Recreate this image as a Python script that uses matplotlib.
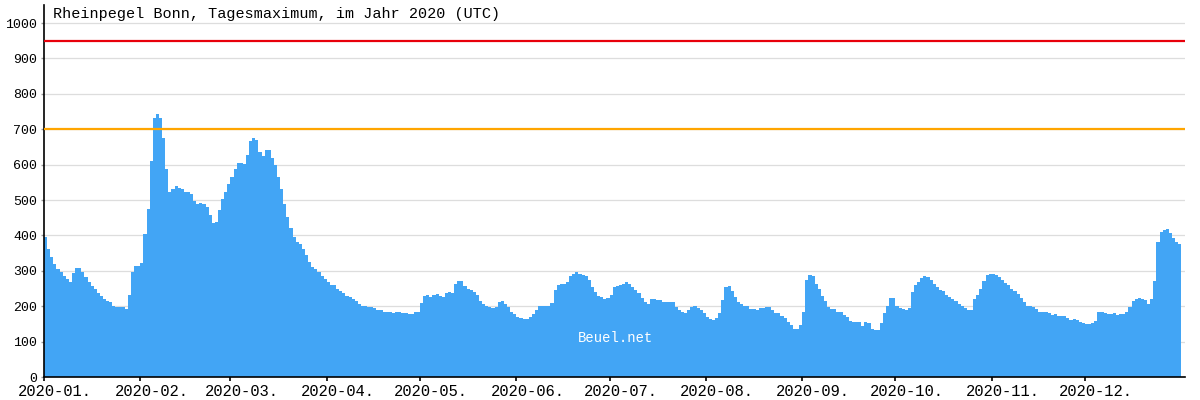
import numpy as np
import pandas as pd
import matplotlib
matplotlib.use("Agg")
import matplotlib.pyplot as plt
from matplotlib.transforms import offset_copy

# Daily maximum water level (cm), Rhine gauge Bonn, 2020
jan = [395, 363, 338, 318, 304, 296, 284, 276, 267, 293, 307, 307, 298, 282, 267, 256,
       248, 236, 228, 219, 214, 211, 202, 197, 197, 197, 191, 231, 296, 313, 315]
feb = [321, 403, 474, 609, 733, 742, 733, 674, 587, 522, 530, 539, 533, 530, 524, 522,
       516, 496, 488, 491, 488, 479, 457, 434, 437, 471, 502, 524, 544]
mar = [564, 589, 606, 606, 601, 626, 666, 674, 671, 635, 623, 642, 640, 618, 598, 564,
       530, 488, 451, 420, 395, 380, 375, 363, 344, 324, 310, 304, 296, 284, 276]
apr = [267, 259, 259, 250, 242, 236, 228, 225, 219, 214, 205, 202, 200, 197, 197, 194,
       188, 188, 185, 185, 185, 180, 183, 183, 180, 180, 177, 177, 183, 185]
may = [208, 228, 231, 225, 231, 234, 228, 225, 236, 239, 236, 262, 270, 270, 256, 250,
       247, 239, 231, 214, 205, 200, 197, 194, 197, 211, 214, 205, 197, 185, 177]
jun = [169, 166, 163, 163, 169, 177, 188, 200, 200, 202, 202, 208, 247, 259, 262, 262,
       267, 284, 290, 296, 290, 287, 284, 273, 253, 239, 228, 225, 219, 222]
jul = [231, 253, 256, 259, 262, 267, 262, 253, 245, 236, 222, 211, 205, 219, 219, 217,
       217, 211, 211, 211, 211, 197, 188, 183, 180, 188, 197, 200, 194, 188, 180]
aug = [169, 163, 160, 166, 180, 217, 253, 256, 242, 225, 211, 205, 202, 202, 191, 191,
       188, 194, 194, 197, 197, 188, 180, 180, 171, 166, 154, 146, 137, 137, 146]
sep = [183, 273, 287, 284, 262, 248, 228, 214, 197, 191, 191, 185, 185, 174, 169, 157,
       155, 155, 155, 143, 155, 152, 135, 132, 132, 152, 180, 202, 222, 222]
oct_ = [202, 194, 191, 188, 194, 239, 259, 267, 279, 284, 282, 273, 262, 253, 247, 242,
        231, 225, 219, 214, 205, 202, 194, 188, 188, 219, 231, 248, 270, 287, 290]
nov = [290, 287, 282, 273, 265, 259, 248, 242, 234, 222, 211, 202, 200, 197, 191, 185,
       185, 183, 180, 174, 177, 171, 171, 171, 166, 160, 163, 160, 154, 152]
dec = [149, 149, 152, 157, 183, 183, 180, 177, 177, 180, 174, 177, 177, 183, 197, 214,
       219, 222, 219, 217, 205, 219, 270, 380, 411, 414, 417, 406, 392, 380, 375]

levels = jan + feb + mar + apr + may + jun + jul + aug + sep + oct_ + nov + dec
days = pd.date_range("2020-01-01", periods=len(levels), freq="D")

month_starts = pd.date_range("2020-01-01", "2020-12-01", freq="MS")
month_labels = ["2020-01.", "2020-02.", "2020-03.", "2020-04.", "2020-05.", "2020-06.",
                "2020-07.", "2020-08.", "2020-09.", "2020-10.", "2020-11.", "2020-12."]
y_ticks = [0, 100, 200, 300, 400, 500, 600, 700, 800, 900, 1000]
mark_high = 950
mark_mid = 700

title = "Rheinpegel Bonn, Tagesmaximum, im Jahr 2020 (UTC)"
watermark = "Beuel.net"

font = "Liberation Mono"
plt.rcParams["font.family"] = [font, "DejaVu Sans Mono"]

fig = plt.figure(figsize=(12, 4), dpi=100)
ax = fig.add_axes([44 / 1200, 1 - 377 / 400, (1185 - 44) / 1200, (377 - 5) / 400])

ax.bar(days, levels, width=1.0, align="edge", color="#42a5f5", linewidth=0, zorder=2)

ax.axhline(mark_high, color="#e8000b", linewidth=1.6, zorder=3)
ax.axhline(mark_mid, color="#ffa500", linewidth=1.6, zorder=3)

ax.set_ylim(0, 1051)
ax.set_xlim(days[0], days[0] + pd.Timedelta(days=367.2))

ax.set_yticks(y_ticks)
ax.set_yticklabels([str(v) for v in y_ticks], fontsize=9.5)
ax.yaxis.grid(True, color="#dddddd", linewidth=0.9, zorder=0)
ax.set_axisbelow(True)

ax.set_xticks(month_starts)
ax.set_xticklabels([])
ax.tick_params(axis="x", direction="out", length=3, width=1.2, color="black")
ax.tick_params(axis="y", direction="out", length=2, width=1.0, color="#999999", pad=3)

label_tf = offset_copy(ax.get_xaxis_transform(), fig=fig, x=8, y=-5, units="points")
for d, lab in zip(month_starts, month_labels):
    ax.text(d, 0, lab, transform=label_tf, ha="center", va="top", fontsize=11.2,
            color="black")

for s in ["top", "right"]:
    ax.spines[s].set_visible(False)
ax.spines["left"].set_linewidth(1.2)
ax.spines["bottom"].set_linewidth(1.2)

ax.text(9 / 1141, 1 - 2 / 372, title, transform=ax.transAxes, ha="left", va="top",
        fontsize=10.9, color="black")
ax.text(pd.Timestamp("2020-07-03"), 110, watermark, ha="center", va="center",
        fontsize=10, color="white", zorder=4)

fig.savefig("out.png", dpi=100, facecolor="white")
